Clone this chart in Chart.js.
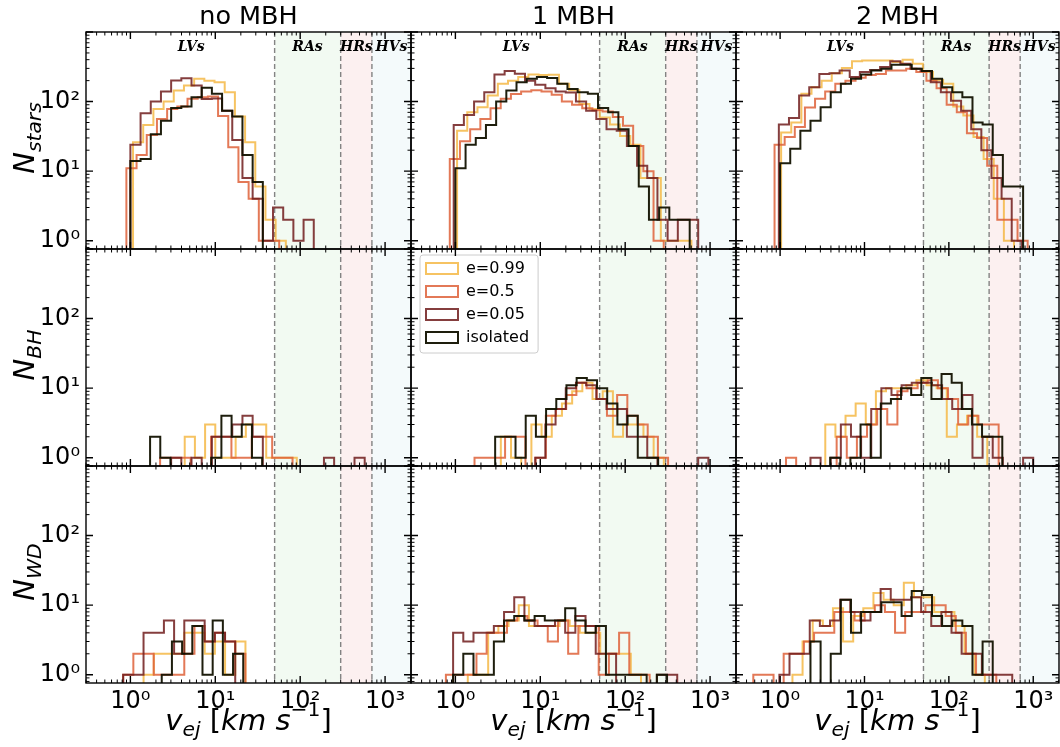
<!DOCTYPE html>
<html><head><meta charset="utf-8">
<script src="https://cdn.jsdelivr.net/npm/chart.js"></script>
<style>
html,body{margin:0;padding:0;background:#fff;}
#fig{position:relative;width:1060px;height:747px;overflow:hidden;background:#fff;font-family:'DejaVu Sans',sans-serif;color:#000;}
canvas{position:absolute;}
.t{position:absolute;white-space:nowrap;line-height:1;}
.title{font-size:25.5px;transform:translate(-50%,-50%);}
.ylab{font-size:29px;transform:translate(-50%,-50%) rotate(-90deg);}
.xlab{font-size:29px;transform:translate(-50%,-50%);}
.it{font-style:italic;}
.sb{font-size:70%;font-style:italic;vertical-align:-0.32em;}
.sp{font-size:70%;vertical-align:0.7em;}
</style></head>
<body><div id="fig"></div>
<script>
// ---------------- data ----------------
const seriesLabels = ['e=0.99', 'e=0.5', 'e=0.05', 'isolated'];
const colTitles = ['no MBH', '1 MBH', '2 MBH'];
const rowLabels = ['stars', 'BH', 'WD'];
const xTickValues = [1, 10, 100, 1000];
const xTickLabels = ['10⁰', '10¹', '10²', '10³'];
const yTickValues = [1, 10, 100];
const yTickLabels = ['10⁰', '10¹', '10²'];
const regionEdges = [50, 300, 700];
const regionNames = ['LVs', 'RAs', 'HRs', 'HVs'];
const regionLabelAt = [5.2, 122, 458, 1190];
const xRange = [0.335, 2020];
const yRange = [0.76, 1000];
const binDex = 0.12;   // log-width of one histogram bin

// counts per bin, series order: e=0.99, e=0.5, e=0.05, isolated
const starsNoMBH = [
  [26,46,78,100,144,170,213,200,190,136,61,26,6,2,1],
  [11,17,33,56,78,85,110,115,118,62,22,7,4,1,1],
  [24,68,100,139,201,217,170,109,111,74,28,8,4,1,3,2,1,2],
  [14,15,34,53,81,85,115,158,130,74,61,17,7]
];
const starsNoMBHLo = [1.074, 0.897, 1.0, 1.0];
const stars1MBH = [
  [38,70,83,122,180,200,225,245,240,243,180,145,92,78,59,47,32,24,8,8,1,1,1],
  [15,27,40,56,80,110,128,140,145,140,125,100,90,80,75,72,60,45,23,10,1],
  [46,64,100,136,245,275,251,200,175,155,140,135,100,74,56,40,38,23,12,8,2,1,2,2],
  [11,24,30,46,100,144,190,213,225,218,180,152,136,130,81,70,40,23,6,2,3,2,2]
];
const stars1MBHLo = [1.047, 0.859, 0.955, 1.0];
const stars2MBH = [
  [36,50,130,161,200,255,303,380,390,390,390,370,400,350,265,205,180,85,63,31,15,4,1],
  [24,31,43,82,110,140,180,200,220,240,250,280,280,297,265,200,155,90,70,35,30,12,2,2,1],
  [47,58,122,161,250,255,280,225,265,285,314,380,350,297,275,190,136,103,74,40,20,8,4,1],
  [13,21,38,53,83,136,180,213,245,280,297,337,337,297,275,213,161,136,115,50,47,17,6,6]
];
const stars2MBHLo = [1.028, 0.859, 0.966, 1.0];
const bhNoMBH = [
  [2,1,3,1,1,2,3,3,1,1,1],
  [1,1,1,0,0,2,2,1,1,2,2,1,1],
  [1,0,1,0,2,2,3,4,2,0,0,0,0,0,0,1,0,0,1],
  [2,1,0,0,0,0,1,4,2,3,1]
];
const bhNoMBHLo = [4.365, 2.239, 3.02, 1.706];
const bh1MBH = [
  [2,1,0,3,2,4,6,9,12,7,9,2,3,3,2,1],
  [1,1,1,2,2,0,1,4,5,8,12,10,7,4,8,4,3,2,1],
  [1,3,5,10,12,11,7,5,5,2,2,1,0,0,0,0,1],
  [2,2,1,4,2,5,7,11,14,13,10,6,3,4,1,1]
];
const bh1MBHLo = [3.43, 1.68, 8.71, 2.94];
const bh2MBH = [
  [3,2,4,6,3,9,10,10,11,13,11,10,2,3,4,2],
  [1,0,0,0,0,2,1,2,3,5,3,9,10,12,13,10,7,3,4,3,3],
  [1,0,1,3,2,1,5,10,8,11,12,12,11,7,5,8,1,2,1,0,0,1],
  [1,0,1,3,1,6,7,10,8,14,7,16,12,5,3,2,2]
];
const bh2MBHLo = [3.43, 1.175, 2.29, 3.92];
const wdNoMBH = [
  [1,2,2,2,4,4,2,3,1,3],
  [1,2,2,1,1,1,2,5,3,4,3,2],
  [1,1,4,4,6,2,6,6,3,4,3],
  [1,3,2,5,1,6,1,2]
];
const wdNoMBHLo = [1.43, 0.822, 0.822, 2.34];
const wd1MBH = [
  [1,1,4,5,6,10,5,5,5,6,5,4,4,2,2,2,1],
  [1,1,1,2,4,4,6,7,6,5,3,6,2,5,5,1,2,4,1,1],
  [4,3,4,4,5,8,13,6,5,5,6,4,7,5,2,2,0,0,0,0,1,1],
  [1,2,1,1,3,6,7,6,7,6,6,9,6,4,5,1,1,1,1,0,1]
];
const wd1MBHLo = [1.40, 0.773, 0.94, 0.94];
const wd2MBH = [
  [1,3,6,5,9,3,7,9,15,12,10,21,13,13,8,8,5,2,1],
  [1,1,0,2,2,3,4,4,8,8,6,8,10,8,4,8,8,10,10,7,4,2,1,1],
  [1,2,2,6,5,6,12,8,6,8,17,12,12,13,8,5,8,4,2,2,1,1,1],
  [3,0,2,12,4,8,8,11,11,7,16,14,7,5,6,5,1,3]
];
const wd2MBHLo = [1.40, 0.481, 0.98, 2.29];

// ---------------- styles / layout ----------------
const SERIES_COLORS = ['rgba(245,185,70,0.85)', 'rgba(222,98,58,0.85)', 'rgba(112,28,28,0.85)', 'rgba(18,18,0,0.95)'];
const REGION_FILLS = [null, 'rgba(0,150,0,0.05)', 'rgba(215,60,60,0.08)', 'rgba(100,180,200,0.07)'];
const PLOT_LEFT = [86, 411, 736], PLOT_W = [325, 325, 323];
const PLOT_TOP = [32, 249, 466], PLOT_H = 217;
const LM = 62, BM = 46, PAD = 2;
const FLOOR = 0.1;

const panels = [
  [starsNoMBH, starsNoMBHLo], [stars1MBH, stars1MBHLo], [stars2MBH, stars2MBHLo],
  [bhNoMBH, bhNoMBHLo], [bh1MBH, bh1MBHLo], [bh2MBH, bh2MBHLo],
  [wdNoMBH, wdNoMBHLo], [wd1MBH, wd1MBHLo], [wd2MBH, wd2MBHLo]
];

function histPoints(counts, lo) {
  const pts = [{x: lo, y: FLOOR}];
  counts.forEach((c, i) => pts.push({x: lo * Math.pow(10, i * binDex), y: c > 0 ? c : FLOOR}));
  pts.push({x: lo * Math.pow(10, counts.length * binDex), y: FLOOR});
  return pts;
}
function labelFor(v, vals, labs) {
  const i = vals.findIndex(t => Math.abs(t - v) < 1e-6 * t);
  return i >= 0 ? labs[i] : '';
}
function zeroPad(s) { s.paddingTop = 0; s.paddingBottom = 0; s.paddingLeft = 0; s.paddingRight = 0; }

const mplPlugin = {
  id: 'mplAxes',
  afterLayout(chart, args, opts) {
    const L = chart.legend;
    if (L && L.options && L.options.display) {
      L.left += 8; L.right += 8; L.top += 6.5; L.bottom += 6.5;
    }
  },
  beforeDraw(chart, args, opts) {
    const {ctx, chartArea: a, scales: {x}} = chart;
    ctx.save();
    ctx.beginPath(); ctx.rect(a.left, a.top, a.right - a.left, a.bottom - a.top); ctx.clip();
    const b = [x.min, ...regionEdges, x.max];
    for (let i = 0; i < REGION_FILLS.length; i++) {
      if (!REGION_FILLS[i]) continue;
      const x0 = x.getPixelForValue(b[i]), x1 = x.getPixelForValue(b[i + 1]);
      ctx.fillStyle = REGION_FILLS[i];
      ctx.fillRect(x0, a.top, x1 - x0, a.bottom - a.top);
    }
    ctx.strokeStyle = 'rgba(110,110,110,0.85)';
    ctx.lineWidth = 1.4;
    ctx.setLineDash([5, 3]);
    regionEdges.forEach(v => {
      const px = x.getPixelForValue(v);
      ctx.beginPath(); ctx.moveTo(px, a.top); ctx.lineTo(px, a.bottom); ctx.stroke();
    });
    ctx.restore();
    const L = chart.legend;
    if (L && L.options && L.options.display) {
      const pad = L.options.labels.padding, itemH = 16, bw = L.options.labels.boxWidth, bh = L.options.labels.boxHeight;
      ctx.save();
      ctx.font = "16px 'DejaVu Sans'";
      const tw = Math.max(...L.legendItems.map(it => ctx.measureText(it.text).width));
      const px = L.left + pad, py0 = L.top + pad + (itemH - bh) / 2;
      const n = L.legendItems.length;
      const fx = px - 6, fy = py0 - 8;
      const fw = (px + bw + 8 + tw + 9) - fx;
      const fh = (py0 + (n - 1) * (itemH + pad) + bh + 10) - fy;
      ctx.beginPath();
      ctx.roundRect(fx, fy, fw, fh, 3);
      ctx.fillStyle = 'rgba(255,255,255,0.8)';
      ctx.fill();
      ctx.strokeStyle = '#cccccc';
      ctx.lineWidth = 1;
      ctx.stroke();
      ctx.restore();
    }
  },
  afterDatasetsDraw(chart, args, opts) {
    const {ctx, chartArea: a, scales: {x, y}} = chart;
    ctx.save();
    if (opts.regionLabels) {
      ctx.font = "italic bold 14px 'DejaVu Serif'";
      ctx.fillStyle = '#000';
      ctx.textAlign = 'center';
      ctx.textBaseline = 'middle';
      regionNames.forEach((nm, i) => {
        ctx.fillText(nm, x.getPixelForValue(regionLabelAt[i]), a.top + 15);
      });
    }
    ctx.strokeStyle = '#000';
    for (const [scale, horiz] of [[x, true], [y, false]]) {
      const lo = Math.floor(Math.log10(scale.min)), hi = Math.ceil(Math.log10(scale.max));
      for (let e = lo; e <= hi; e++) {
        for (let k = 1; k <= 9; k++) {
          const v = k * Math.pow(10, e);
          if (v < scale.min * (1 - 1e-9) || v > scale.max * (1 + 1e-9)) continue;
          const p = scale.getPixelForValue(v);
          const len = k === 1 ? 7 : 3.5;
          ctx.lineWidth = k === 1 ? 1.4 : 1;
          ctx.beginPath();
          if (horiz) {
            ctx.moveTo(p, a.bottom); ctx.lineTo(p, a.bottom - len);
            ctx.moveTo(p, a.top); ctx.lineTo(p, a.top + len);
          } else {
            ctx.moveTo(a.left, p); ctx.lineTo(a.left + len, p);
            ctx.moveTo(a.right, p); ctx.lineTo(a.right - len, p);
          }
          ctx.stroke();
        }
      }
    }
    ctx.lineWidth = 1.4;
    ctx.strokeRect(a.left, a.top, a.right - a.left, a.bottom - a.top);
    ctx.restore();
  }
};

Chart.defaults.font.family = "'DejaVu Sans', sans-serif";
Chart.defaults.color = '#000';

const fig = document.getElementById('fig');
for (let r = 0; r < 3; r++) {
  for (let c = 0; c < 3; c++) {
    const [counts, los] = panels[r * 3 + c];
    const showY = c === 0, showX = r === 2, showLegend = (r === 1 && c === 1);
    const lm = showY ? LM : 0, bm = showX ? BM : 0;
    const cv = document.createElement('canvas');
    const cw = PLOT_W[c] + lm + 2 * PAD, chh = PLOT_H + bm + 2 * PAD;
    cv.width = cw; cv.height = chh;
    cv.style.width = cw + 'px'; cv.style.height = chh + 'px';
    cv.style.left = (PLOT_LEFT[c] - lm - PAD) + 'px';
    cv.style.top = (PLOT_TOP[r] - PAD) + 'px';
    fig.appendChild(cv);
    const datasets = counts.map((cnt, i) => ({
      label: seriesLabels[i],
      data: histPoints(cnt, los[i]),
      stepped: 'before',
      borderColor: SERIES_COLORS[i],
      backgroundColor: 'rgba(0,0,0,0)',
      borderWidth: 2,
      pointRadius: 0,
      fill: false,
      order: 3 - i
    }));
    new Chart(cv, {
      type: 'line',
      data: {datasets},
      plugins: [mplPlugin],
      options: {
        responsive: false,
        animation: false,
        devicePixelRatio: 1,
        events: [],
        layout: {padding: {left: PAD, right: PAD, top: PAD, bottom: PAD}, autoPadding: false},
        scales: {
          x: {
            type: 'logarithmic', min: xRange[0], max: xRange[1], display: showX,
            grid: {display: false, drawTicks: false}, border: {display: false},
            ticks: {autoSkip: false, maxRotation: 0, minRotation: 0, padding: 4, color: '#000',
              font: {family: "'DejaVu Sans'", size: 24},
              callback: v => labelFor(v, xTickValues, xTickLabels)},
            afterFit: s => { if (showX) { s.height = BM; zeroPad(s); } }
          },
          y: {
            type: 'logarithmic', min: yRange[0], max: yRange[1], display: showY,
            grid: {display: false, drawTicks: false}, border: {display: false},
            ticks: {autoSkip: false, padding: 6, color: '#000',
              font: {family: "'DejaVu Sans'", size: 24},
              callback: v => labelFor(v, yTickValues, yTickLabels)},
            afterFit: s => { if (showY) { s.width = LM; zeroPad(s); } }
          }
        },
        plugins: {
          mplAxes: {regionLabels: r === 0},
          tooltip: {enabled: false},
          legend: {
            display: showLegend, position: 'chartArea', align: 'start',
            labels: {boxWidth: 32, boxHeight: 11, padding: 7, color: '#000',
              font: {family: "'DejaVu Sans'", size: 16},
              sort: (a, b) => a.datasetIndex - b.datasetIndex}
          }
        }
      }
    });
  }
}

// text labels (HTML)
const colCenters = [0, 1, 2].map(c => PLOT_LEFT[c] + PLOT_W[c] / 2);
colTitles.forEach((t, c) => {
  const d = document.createElement('div');
  d.className = 't title';
  d.textContent = t;
  d.style.left = colCenters[c] + 'px';
  d.style.top = '16px';
  fig.appendChild(d);
});
rowLabels.forEach((t, r) => {
  const d = document.createElement('div');
  d.className = 't ylab';
  d.innerHTML = '<span class="it">N</span><span class="sb">' + t + '</span>';
  d.style.left = '27px';
  d.style.top = (PLOT_TOP[r] + PLOT_H / 2 - 3) + 'px';
  fig.appendChild(d);
});
colCenters.forEach(cx => {
  const d = document.createElement('div');
  d.className = 't xlab';
  d.innerHTML = '<span class="it">v</span><span class="sb">ej</span> [<span class="it">km</span> <span class="it">s</span><span class="sp">−1</span>]';
  d.style.left = cx + 'px';
  d.style.top = '719px';
  fig.appendChild(d);
});
</script>
</body></html>
